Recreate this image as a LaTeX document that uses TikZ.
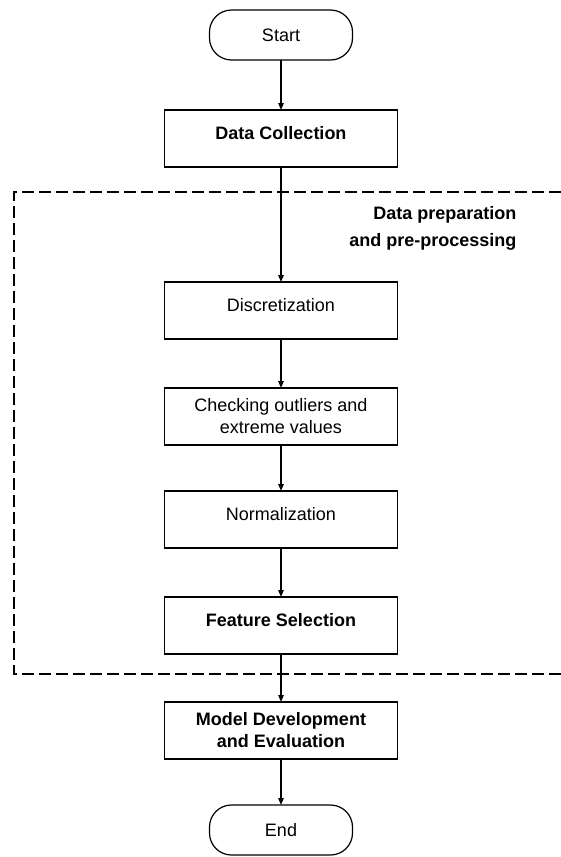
\documentclass[tikz,border=0pt]{standalone}
\usepackage{fontspec}
\setmainfont{Liberation Sans}
\usetikzlibrary{positioning, arrows.meta}

\newcommand{\tsize}{\fontsize{18}{22}\selectfont}

\begin{document}
\begin{tikzpicture}[x=1pt, y=1pt, node distance=48pt, line width=1.2pt, font=\tsize,
    terminal/.style={draw, outer sep=0pt, rounded corners=22pt, minimum width=143pt, minimum height=50pt},
    stepbox/.style={draw, outer sep=0pt, minimum width=233pt, minimum height=57pt, text height=13pt, text depth=12pt},
    twobox/.style={draw, outer sep=0pt, minimum width=233pt, minimum height=57pt, align=center},
    arrow/.style={-{Triangle[length=7pt, width=5.5pt]}},
    frame/.style={dash pattern=on 12pt off 5pt}]
    \useasboundingbox (0,0) rectangle (561,-857);

    \node[terminal] (start) at (281,-35) {Start};
    \node[stepbox, below=50pt of start, font=\tsize\bfseries] (collect) {Data Collection};
    \node[stepbox, below=115pt of collect] (discret) {Discretization};
    \node[twobox, below=49pt of discret] (outlier) {Checking outliers and\\extreme values};
    \node[stepbox, below=46pt of outlier] (norm) {Normalization};
    \node[stepbox, below=49pt of norm, font=\tsize\bfseries] (select) {Feature Selection};
    \node[twobox, below=48pt of select, font=\tsize\bfseries] (model) {Model Development\\and Evaluation};
    \node[terminal, below=46pt of model] (finish) {End};
    % frame
    \coordinate [below=25pt of collect] (ftop);
    \coordinate [below=20pt of select] (fbot);
    \coordinate [left=267pt of ftop] (fleft);
    \coordinate [right=280pt of ftop] (fright);
    \coordinate [right=236pt of ftop] (lbl);
    \node[below left=14pt and 0pt of lbl, align=right, inner sep=0pt,
        font=\fontsize{18}{27}\selectfont\bfseries] (prep) {Data preparation\\and pre-processing};

    \draw[frame] (fright) -- (fleft) -- (fleft|-fbot) -- (fright|-fbot);

    \draw[arrow] (start) -- (collect);
    \draw[arrow] (collect) -- (discret);
    \draw[arrow] (discret) -- (outlier);
    \draw[arrow] (outlier) -- (norm);
    \draw[arrow] (norm) -- (select);
    \draw[arrow] (select) -- (model);
    \draw[arrow] (model) -- (finish);
\end{tikzpicture}
\end{document}
